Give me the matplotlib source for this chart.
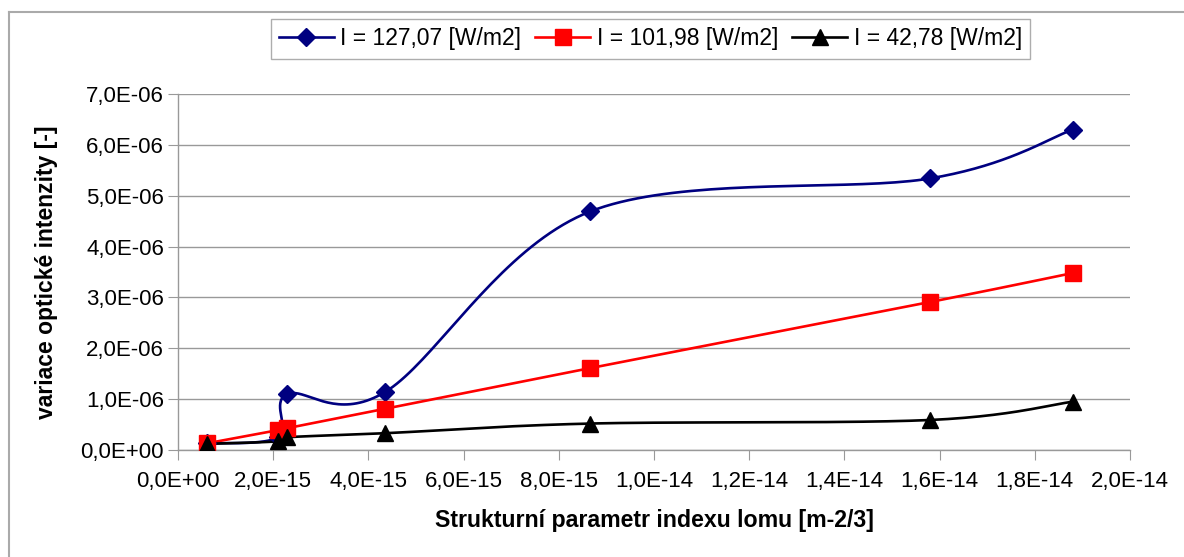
import matplotlib.pyplot as plt
import numpy as np
from matplotlib.lines import Line2D
from matplotlib.ticker import FuncFormatter, MultipleLocator

plt.rcParams['font.family'] = ['Liberation Sans', 'DejaVu Sans']

# data
x = np.array([0.6, 2.1, 2.3, 4.35, 8.66, 15.8, 18.8]) * 1e-15
y_127 = np.array([0.13, 0.25, 1.10, 1.14, 4.69, 5.34, 6.30]) * 1e-6
y_102 = np.array([0.13, 0.39, 0.43, 0.81, 1.61, 2.91, 3.48]) * 1e-6
y_43 = np.array([0.12, 0.17, 0.25, 0.33, 0.52, 0.59, 0.95]) * 1e-6

labels = ["I = 127,07 [W/m2]", "I = 101,98 [W/m2]", "I = 42,78 [W/m2]"]
colors = ["#000080", "#ff0000", "#000000"]
markers = ["D", "s", "^"]
msizes = [9, 11.5, 11.5]

W, H = 1184, 557
fig = plt.figure(figsize=(W / 100, H / 100), dpi=100)
ax = fig.add_axes([178 / W, 1 - 450 / H, (1130 - 178) / W, (450 - 94) / H])
ax.set_xlim(0, 2e-14)
ax.set_ylim(0, 7e-6)


def smooth(xs, ys, n=40):
    # excel-like smoothing (bezier with catmull-rom control points) in pixel space
    pts = ax.transData.transform(np.column_stack([xs, ys]))
    out = [pts[0]]
    for i in range(len(pts) - 1):
        p0 = pts[i - 1] if i > 0 else pts[i]
        p1 = pts[i]
        p2 = pts[i + 1]
        p3 = pts[i + 2] if i + 2 < len(pts) else pts[i + 1]
        c1 = p1 + (p2 - p0) / 6
        c2 = p2 - (p3 - p1) / 6
        t = np.linspace(0, 1, n)[1:, None]
        b = (1 - t) ** 3 * p1 + 3 * (1 - t) ** 2 * t * c1 + 3 * (1 - t) * t ** 2 * c2 + t ** 3 * p2
        out.extend(b)
    out = ax.transData.inverted().transform(np.array(out))
    return out[:, 0], out[:, 1]


for ys, lab, c, m, ms in zip([y_127, y_102, y_43], labels, colors, markers, msizes):
    sx, sy = smooth(x, ys)
    ax.plot(sx, sy, color=c, lw=1.9, zorder=3)
    ax.plot(x, ys, linestyle='none', marker=m, markersize=ms, color=c, zorder=4)
    ax.plot([], [], color=c, lw=1.9, marker=m, markersize=ms, label=lab)

ax.yaxis.set_major_locator(MultipleLocator(1e-6))
ax.xaxis.set_major_locator(MultipleLocator(2e-15))
fmt = FuncFormatter(lambda v, p: f"{v:.1E}".replace('.', ','))
ax.xaxis.set_major_formatter(fmt)
ax.yaxis.set_major_formatter(fmt)
ax.grid(axis='y', color='#999999', lw=1)
ax.set_axisbelow(True)
for s in ['top', 'right']:
    ax.spines[s].set_visible(False)
for s in ['left', 'bottom']:
    ax.spines[s].set_color('#999999')
    ax.spines[s].set_linewidth(1)
ax.tick_params(axis='both', direction='out', length=7, color='#999999', labelsize=16)
ax.tick_params(axis='x', pad=8)
ax.tick_params(axis='y', pad=3)

ax.set_xlabel("Strukturní parametr indexu lomu [m-2/3]", fontsize=16.7, fontweight='bold', labelpad=12)
ax.set_ylabel("variace optické intenzity [-]", fontsize=16.5, fontweight='bold', labelpad=16)

leg = fig.legend(loc='upper center', bbox_to_anchor=((273 + 1028) / 2 / W, 1 - 8 / H),
                 ncol=3, fontsize=16.5, frameon=True, fancybox=False, handlelength=2.4,
                 handletextpad=0.3, columnspacing=0.6, borderpad=0.35)
leg.get_frame().set_edgecolor('#999999')
leg.get_frame().set_linewidth(1)

# outer chart frame (partly cut off)
fig.add_artist(Line2D([8.5 / W, 8.5 / W], [0, 1 - 12 / H], transform=fig.transFigure, color='#aaaaaa', lw=1.5))
fig.add_artist(Line2D([8.5 / W, 1], [1 - 12 / H, 1 - 12 / H], transform=fig.transFigure, color='#aaaaaa', lw=1.5))

fig.savefig("out.png", dpi=100)
